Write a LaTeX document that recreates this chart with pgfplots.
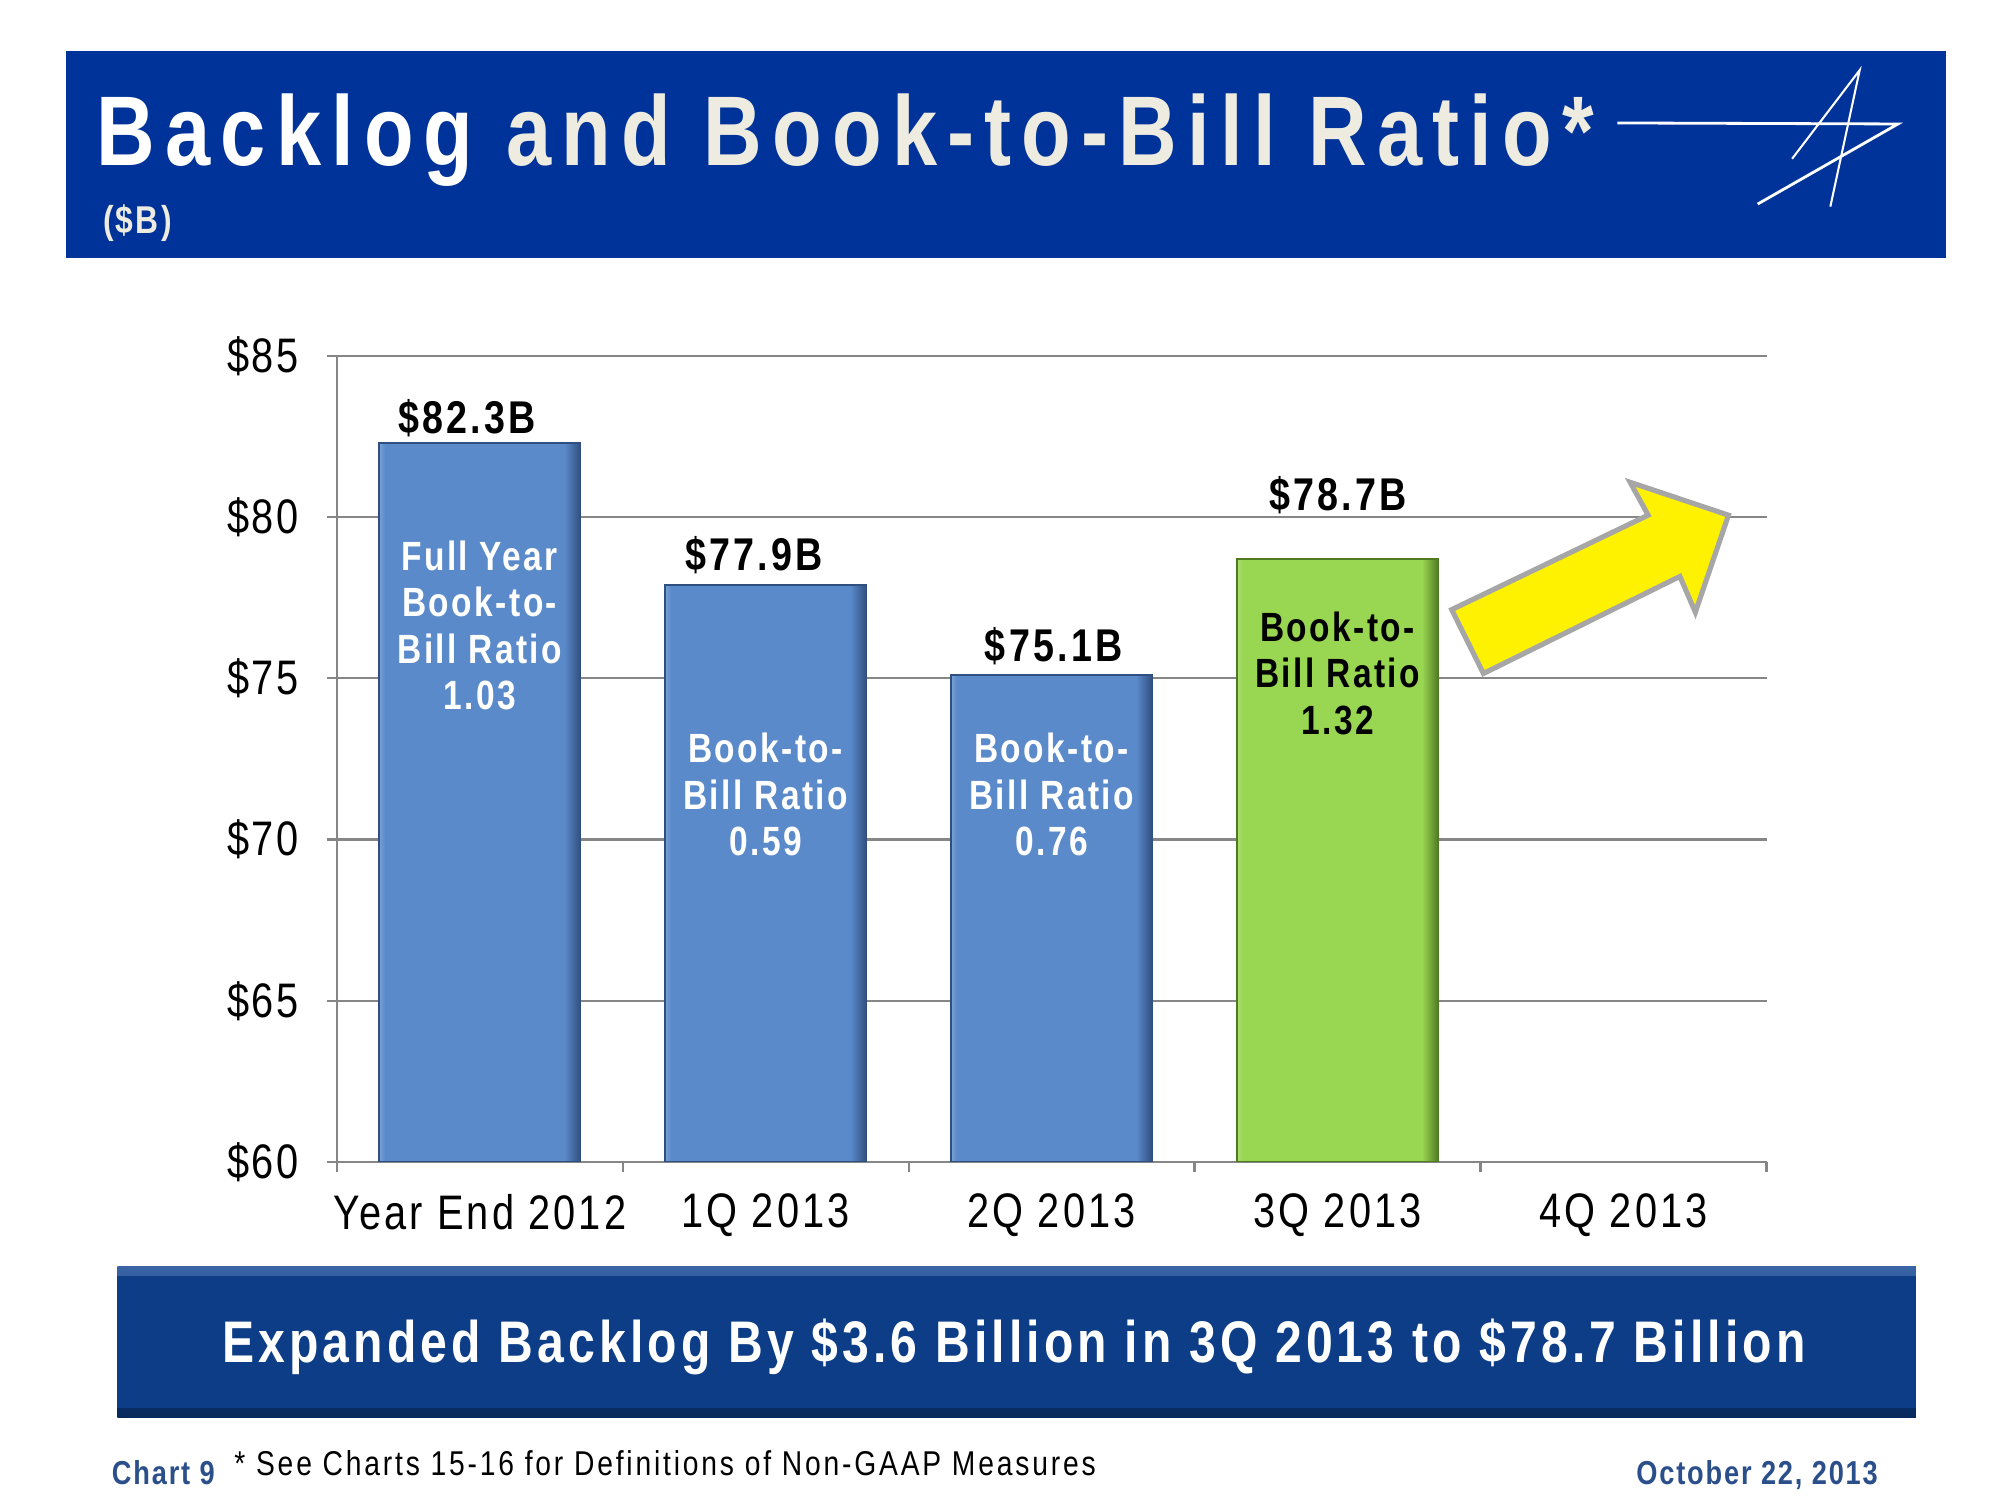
\documentclass[border=0pt]{standalone}
\usepackage{pgfplots}
\pgfplotsset{compat=1.18}
\usepackage{fontspec}
\setmainfont[FakeStretch=0.82,LetterSpace=5]{Liberation Sans}
\newfontfamily\fT[FakeStretch=0.82,LetterSpace=10.3]{Liberation Sans}
\newfontfamily\fY[FakeStretch=0.82,LetterSpace=4.5]{Liberation Sans}
\newfontfamily\fX[FakeStretch=0.82,LetterSpace=6.5]{Liberation Sans}
\newfontfamily\fB[FakeStretch=0.82,LetterSpace=6]{Liberation Sans}
\newfontfamily\fN[FakeStretch=0.82,LetterSpace=7.1]{Liberation Sans}
\newfontfamily\fV[FakeStretch=0.82,LetterSpace=7]{Liberation Sans}
\newfontfamily\fF[FakeStretch=0.82,LetterSpace=8.2]{Liberation Sans}
\newfontfamily\fG[FakeStretch=0.82,LetterSpace=5.5]{Liberation Sans}
\definecolor{hdr}{HTML}{003399}
\definecolor{cream}{HTML}{EEECE1}
\definecolor{barblue}{HTML}{5A8ACA}
\definecolor{barbluedk}{HTML}{2F4F7E}
\definecolor{bargreen}{HTML}{99D651}
\definecolor{bargreendk}{HTML}{4F7A22}
\definecolor{axgray}{HTML}{868686}
\definecolor{ban}{HTML}{0C3D86}
\definecolor{bantop}{HTML}{3A64A4}
\definecolor{banbot}{HTML}{08295C}
\definecolor{foot}{HTML}{2B4F8A}
\definecolor{arrgray}{HTML}{A6A6A6}
\pgfdeclarehorizontalshading{bluebar}{100bp}{color(0bp)=(barblue!80!white); color(25bp)=(barblue!80!white); color(26.5bp)=(barblue); color(71bp)=(barblue); color(75bp)=(barbluedk); color(100bp)=(barbluedk)}
\pgfdeclarehorizontalshading{greenbar}{100bp}{color(0bp)=(bargreen!80!white); color(25bp)=(bargreen!80!white); color(26.5bp)=(bargreen); color(71bp)=(bargreen); color(75bp)=(bargreendk); color(100bp)=(bargreendk)}
\begin{document}
\begin{tikzpicture}
\begin{scope}[x=0.25pt,y=-0.25pt]
\fill[white] (0,0) rectangle (1568,1176);
\fill[hdr] (52,40) rectangle (1526,202);
\node[anchor=base west,inner sep=0,font=\fT\bfseries\fontsize{19.4}{22}\selectfont] at (75,130) {\textcolor{white}{Backlog} \textcolor{cream}{and Book-to-Bill Ratio*}};
\node[anchor=base west,inner sep=0,font=\fB\bfseries\fontsize{7.6}{9}\selectfont,text=cream] at (80,183) {(\$B)};
\draw[white,line width=0.55pt] (1268,96.4) -- (1488,97.2) -- (1378,160);
\draw[white,line width=0.4pt] (1405,124.5) -- (1458,55) -- (1435,162);
\shade[top color=bantop, bottom color=banbot, middle color=ban] (92,993) rectangle (1502,1111);
\fill[ban] (92,1000) rectangle (1502,1104);
\node[anchor=base,inner sep=0,font=\fN\bfseries\fontsize{11.5}{13}\selectfont,text=white] at (795,1068) {Expanded Backlog By \$3.6 Billion in 3Q 2013 to \$78.7 Billion};
\node[anchor=base west,inner sep=0,font=\fG\bfseries\fontsize{6.5}{8}\selectfont,text=foot] at (87,1164) {Chart 9};
\node[anchor=base west,inner sep=0,font=\fF\fontsize{6.75}{8}\selectfont,text=black] at (183,1157) {* See Charts 15-16 for Definitions of Non-GAAP Measures};
\node[anchor=base east,inner sep=0,font=\fG\bfseries\fontsize{6.5}{8}\selectfont,text=foot] at (1473,1164) {October 22, 2013};
\end{scope}
\begin{axis}[at={(66pt,-227.75pt)},anchor=south west,
  scale only axis,width=280.25pt,height=158pt,
  xmin=-0.5,xmax=4.5,ymin=60,ymax=85,
  axis x line*=bottom,axis y line*=left,
  axis line style={axgray,line width=0.45pt},
  ytick={60,65,70,75,80,85},
  yticklabels={\$60,\$65,\$70,\$75,\$80,\$85},
  ymajorgrids,grid style={axgray,line width=0.45pt},
  xtick={-0.5,0.5,1.5,2.5,3.5,4.5},
  x tick label as interval,
  xticklabels={Year End 2012,1Q 2013,2Q 2013,3Q 2013,4Q 2013},
  tick align=outside,major tick length=2pt,
  tick style={axgray,line width=0.45pt},
  yticklabel style={font=\fY\fontsize{9.5}{11}\selectfont,text=black,xshift=-2pt},
  xticklabel style={font=\fX\fontsize{9.5}{11}\selectfont,text=black,yshift=-0.75pt},
  ybar,bar width=39.5pt,
]
\addplot[ybar,bar shift=0pt,shade,shading=bluebar,draw=barbluedk,line width=0.3pt] coordinates {(0,82.3)};
\addplot[ybar,bar shift=0pt,shade,shading=bluebar,draw=barbluedk,line width=0.3pt] coordinates {(1,77.9)};
\addplot[ybar,bar shift=0pt,shade,shading=bluebar,draw=barbluedk,line width=0.3pt] coordinates {(2,75.1)};
\addplot[ybar,bar shift=0pt,shade,shading=greenbar,draw=bargreendk,line width=0.3pt] coordinates {(3,78.7)};
\node[anchor=base,inner sep=0,font=\fV\bfseries\fontsize{9}{11}\selectfont] at (axis cs:-0.045,82.59) {\$82.3B};
\node[anchor=base,inner sep=0,font=\fV\bfseries\fontsize{9}{11}\selectfont] at (axis cs:0.959,78.35) {\$77.9B};
\node[anchor=base,inner sep=0,font=\fV\bfseries\fontsize{9}{11}\selectfont] at (axis cs:2.007,75.51) {\$75.1B};
\node[anchor=base,inner sep=0,font=\fV\bfseries\fontsize{9}{11}\selectfont] at (axis cs:3.002,80.21) {\$78.7B};
\node[anchor=north,align=center,inner sep=0,text=white,font=\fB\bfseries\fontsize{8}{9.1}\selectfont] at (axis cs:0,79.30) {Full Year\\Book-to-\\Bill Ratio\\1.03};
\node[anchor=north,align=center,inner sep=0,text=white,font=\fB\bfseries\fontsize{8}{9.1}\selectfont] at (axis cs:1,73.33) {Book-to-\\Bill Ratio\\0.59};
\node[anchor=north,align=center,inner sep=0,text=white,font=\fB\bfseries\fontsize{8}{9.1}\selectfont] at (axis cs:2,73.33) {Book-to-\\Bill Ratio\\0.76};
\node[anchor=north,align=center,inner sep=0,text=black,font=\fB\bfseries\fontsize{8}{9.1}\selectfont] at (axis cs:3,77.09) {Book-to-\\Bill Ratio\\1.32};
\draw[fill=yellow,draw=arrgray,line width=1pt,line join=miter] (axis cs:3.399,77.13) -- (axis cs:4.086,80.06) -- (axis cs:4.023,81.08) -- (axis cs:4.367,80.06) -- (axis cs:4.251,77.05) -- (axis cs:4.197,78.16) -- (axis cs:3.510,75.15) -- cycle;
\end{axis}
\end{tikzpicture}
\end{document}
